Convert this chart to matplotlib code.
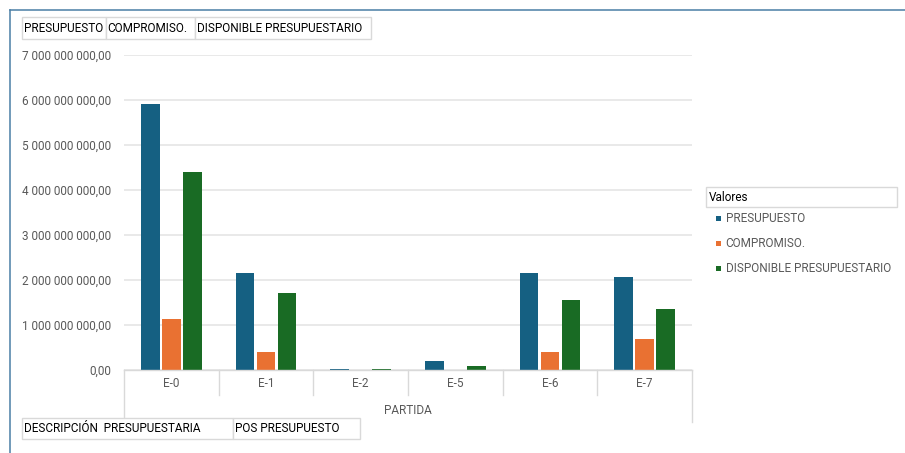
import matplotlib
matplotlib.use('Agg')
import matplotlib.pyplot as plt
from matplotlib.patches import Rectangle
from matplotlib.lines import Line2D
from matplotlib.transforms import blended_transform_factory
import numpy as np

# ---- data ----
categories = ['E-0', 'E-1', 'E-2', 'E-5', 'E-6', 'E-7']
presupuesto = [5.92e9, 2.15e9, 0.02e9, 0.185e9, 2.15e9, 2.06e9]
compromiso = [1.12e9, 0.40e9, 0.0, 0.0, 0.38e9, 0.67e9]
disponible = [4.40e9, 1.71e9, 0.015e9, 0.08e9, 1.55e9, 1.35e9]
series_names = ['PRESUPUESTO', 'COMPROMISO.', 'DISPONIBLE PRESUPUESTARIO']
series_colors = ['#156082', '#E97132', '#196B24']
yticks = [0, 1e9, 2e9, 3e9, 4e9, 5e9, 6e9, 7e9]
top_fields = ['PRESUPUESTO', 'COMPROMISO.', 'DISPONIBLE PRESUPUESTARIO']
bottom_fields = ['DESCRIPCIÓN  PRESUPUESTARIA', 'POS PRESUPUESTO']
legend_title = 'Valores'
x_title = 'PARTIDA'

plt.rcParams['font.family'] = ['Roboto', 'DejaVu Sans']
FS = 8.45

W, H = 905, 453
fig = plt.figure(figsize=(W / 100, H / 100), dpi=100)
fig.patch.set_facecolor('white')


def fx(x):
    return x / W


def fy(y):
    return 1 - y / H


GRAY = '#595959'
BOX = '#d9d9d9'

ax_l, ax_r, ax_t, ax_b = 124, 692, 55, 369.5
ax = fig.add_axes([fx(ax_l), fy(ax_b), (ax_r - ax_l) / W, (ax_b - ax_t) / H])
ax.set_xlim(-0.5, len(categories) - 0.5)
ax.set_ylim(0, 7e9)

x = np.arange(len(categories))
series = [presupuesto, compromiso, disponible]
bw = 0.2
step = 0.222
for i, (vals, col) in enumerate(zip(series, series_colors)):
    ax.bar(x + (i - 1) * step, vals, width=bw, color=col, zorder=3)

ax.set_yticks(yticks)
ax.set_yticklabels([f"{v:,.2f}".replace(',', ' ').replace('.', ',') for v in yticks])
ax.yaxis.grid(True, color='#e3e3e3', lw=1.1)
ax.set_axisbelow(True)
for s in ['top', 'right', 'left']:
    ax.spines[s].set_visible(False)
ax.spines['bottom'].set_color(BOX)
ax.spines['bottom'].set_linewidth(1.0)
ax.spines['bottom'].set_zorder(4)
ax.set_xticks(x)
ax.set_xticklabels(categories)
ax.tick_params(axis='both', length=0, labelcolor=GRAY, labelsize=FS)
ax.tick_params(axis='y', pad=9.5)
ax.tick_params(axis='x', pad=5.5)

# category separators
trans = blended_transform_factory(ax.transData, ax.transAxes)
axh = ax_b - ax_t
for k in range(len(categories) + 1):
    xe = k - 0.5
    drop = 52 if k in (0, len(categories)) else 25
    ax.add_line(Line2D([xe, xe], [0, -drop / axh], transform=trans, color=BOX,
                       lw=1.0, clip_on=False))

fig.text(fx((ax_l + ax_r) / 2), fy(411), x_title, ha='center', va='center',
         color=GRAY, fontsize=FS)


def box_row(edges, y0, y1, labels):
    for i, lab in enumerate(labels):
        l, r = edges[i], edges[i + 1]
        fig.add_artist(Rectangle((fx(l), fy(y1)), (r - l) / W, (y1 - y0) / H,
                                 transform=fig.transFigure, facecolor='white',
                                 edgecolor=BOX, lw=1.0))
        fig.text(fx(l + 1.5), fy((y0 + y1) / 2), lab, ha='left', va='center',
                 color='black', fontsize=FS)


box_row([22, 106, 195, 371], 17, 39, top_fields)
box_row([22, 233, 360], 418, 439, bottom_fields)

# legend
fig.add_artist(Rectangle((fx(706), fy(207)), (897 - 706) / W, 20 / H,
                         transform=fig.transFigure, facecolor='white',
                         edgecolor=BOX, lw=1.0))
fig.text(fx(708.5), fy(197.5), legend_title, ha='left', va='center', color='black',
         fontsize=FS)
for name, col, yy in zip(series_names, series_colors, [219, 243.5, 268]):
    fig.add_artist(Rectangle((fx(715.5), fy(yy + 2.5)), 5 / W, 5 / H,
                             transform=fig.transFigure, facecolor=col,
                             edgecolor='none'))
    fig.text(fx(725.5), fy(yy), name, ha='left', va='center', color=GRAY, fontsize=FS)

# frame lines
FR = '#4a7fa6'
fig.add_artist(Line2D([fx(10), 1], [fy(9.5), fy(9.5)], transform=fig.transFigure,
                      color=FR, lw=1.1))
fig.add_artist(Line2D([fx(10), fx(10)], [fy(9.5), 0], transform=fig.transFigure,
                      color=FR, lw=1.1))

fig.savefig('out.png', dpi=100, facecolor='white')
